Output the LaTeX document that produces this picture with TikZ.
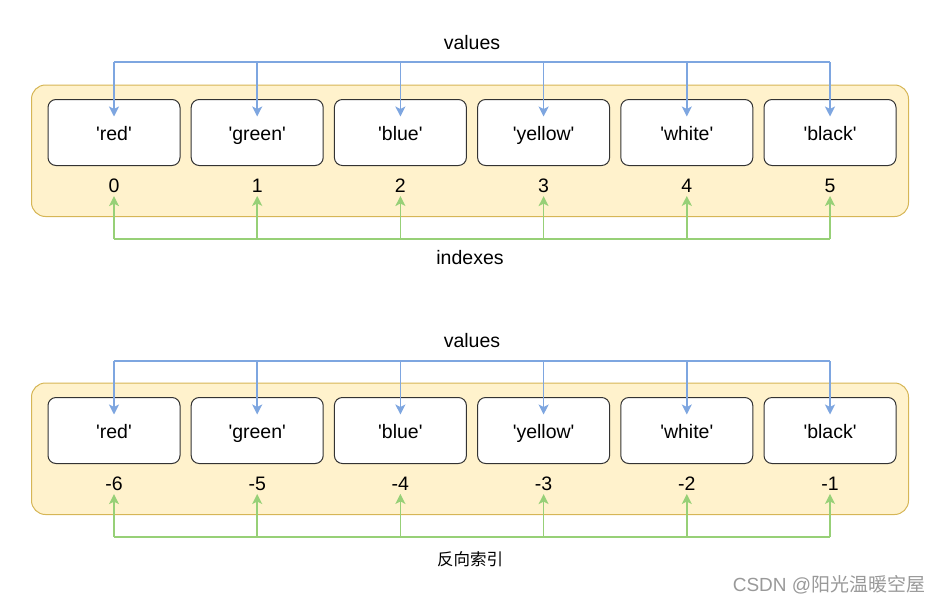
\documentclass[tikz,border=0pt]{standalone}
\usepackage{fontspec}
\setmainfont{Liberation Sans}
\newfontfamily\cjk{Noto Sans CJK SC}
\usepackage{xcolor}
\usetikzlibrary{arrows.meta,positioning,backgrounds}

\definecolor{valblue}{HTML}{7EA6E0}
\definecolor{idxgreen}{HTML}{97D077}
\definecolor{panelfill}{HTML}{FFF2CC}
\definecolor{paneldraw}{HTML}{D6B656}
\newcommand{\sq}[1]{\textquotesingle#1\textquotesingle}

\begin{document}
\begin{tikzpicture}[
    x=1pt, y=-1pt,
    node distance=10.2pt,
    item/.style={rectangle, draw=black!80, fill=white, rounded corners=8pt, minimum width=132pt, minimum height=66pt, text height=17pt, text depth=1pt, line width=1pt, font=\fontsize{19.5}{22}\selectfont},
    idx/.style={inner sep=3pt, font=\fontsize{19.5}{22}\selectfont},
    lbl/.style={font=\fontsize{19.5}{22}\selectfont},
    cjklbl/.style={font=\fontsize{16.5}{19}\selectfont\cjk},
    wmark/.style={text=black!40, font=\fontsize{19}{21}\selectfont},
    panel/.style={draw=paneldraw, fill=panelfill, rounded corners=14pt, line width=1pt},
    valline/.style={valblue, line width=1.5pt},
    valarrow/.style={-{Stealth[length=10pt,width=10pt,inset=2.5pt]}, valblue, line width=1.5pt},
    idxline/.style={idxgreen, line width=1.5pt},
    idxarrow/.style={-{Stealth[length=10pt,width=10pt,inset=2.5pt]}, idxgreen, line width=1.5pt}
]
\useasboundingbox (0,0) rectangle (939,605);

% Forward indexing
\node[lbl] (values) at (472,43) {values};
\node[item] (v0) at (114,132.5) {\sq{red}};
\node[item, right=of v0] (v1) {\sq{green}};
\node[item, right=of v1] (v2) {\sq{blue}};
\node[item, right=of v2] (v3) {\sq{yellow}};
\node[item, right=of v3] (v4) {\sq{white}};
\node[item, right=of v4] (v5) {\sq{black}};

\coordinate (idxrow) at (0,186);
\node[idx] (i0) at (v0 |- idxrow) {0};
\node[idx] (i1) at (v1 |- idxrow) {1};
\node[idx] (i2) at (v2 |- idxrow) {2};
\node[idx] (i3) at (v3 |- idxrow) {3};
\node[idx] (i4) at (v4 |- idxrow) {4};
\node[idx] (i5) at (v5 |- idxrow) {5};
\node[lbl] (indexes) at (470,258) {indexes};

\begin{scope}[on background layer]
    \draw[panel] ([xshift=-16pt,yshift=14pt]v0.north west) rectangle ([xshift=12pt,yshift=-50.5pt]v5.south east);
\end{scope}

\coordinate (vbus) at (0,62);
\coordinate (ibus) at (0,239);
\draw[valline] (v0 |- vbus) -- (v5 |- vbus);
\draw[idxline] (i0 |- ibus) -- (i5 |- ibus);
\foreach \n in {0,...,5} {
    \draw[valarrow] (v\n |- vbus) -- ([yshift=-17.5pt]v\n.north);
    \draw[idxarrow] (i\n |- ibus) -- (i\n.south);
}

% Reverse indexing
\node[lbl] (rvalues) at (472,341) {values};
\node[item] (rv0) at (114,430.5) {\sq{red}};
\node[item, right=of rv0] (rv1) {\sq{green}};
\node[item, right=of rv1] (rv2) {\sq{blue}};
\node[item, right=of rv2] (rv3) {\sq{yellow}};
\node[item, right=of rv3] (rv4) {\sq{white}};
\node[item, right=of rv4] (rv5) {\sq{black}};

\coordinate (ridxrow) at (0,484);
\node[idx] (ri0) at (rv0 |- ridxrow) {-6};
\node[idx] (ri1) at (rv1 |- ridxrow) {-5};
\node[idx] (ri2) at (rv2 |- ridxrow) {-4};
\node[idx] (ri3) at (rv3 |- ridxrow) {-3};
\node[idx] (ri4) at (rv4 |- ridxrow) {-2};
\node[idx] (ri5) at (rv5 |- ridxrow) {-1};
\node[cjklbl] (rindexes) at (470,559) {反向索引};

\begin{scope}[on background layer]
    \draw[panel] ([xshift=-16pt,yshift=14pt]rv0.north west) rectangle ([xshift=12pt,yshift=-50.5pt]rv5.south east);
\end{scope}

\coordinate (rvbus) at (0,361);
\coordinate (ribus) at (0,537);
\draw[valline] (rv0 |- rvbus) -- (rv5 |- rvbus);
\draw[idxline] (ri0 |- ribus) -- (ri5 |- ribus);
\foreach \n in {0,...,5} {
    \draw[valarrow] (rv\n |- rvbus) -- ([yshift=-17.5pt]rv\n.north);
    \draw[idxarrow] (ri\n |- ribus) -- (ri\n.south);
}

% Watermark
\node[wmark] (credit) at (829,585) {CSDN @{\cjk 阳光温暖空屋}};

\end{tikzpicture}
\end{document}
